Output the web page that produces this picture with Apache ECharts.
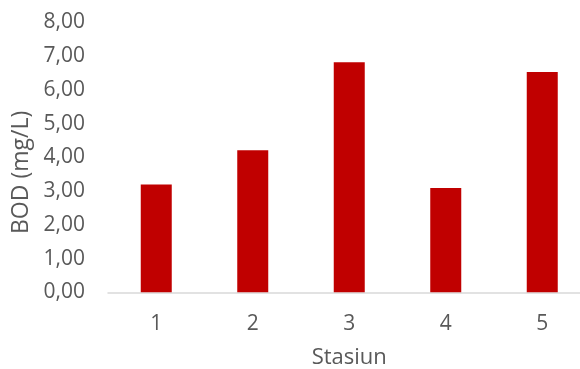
<!DOCTYPE html>
<html>
<head>
<meta charset="utf-8">
<script src="https://cdn.jsdelivr.net/npm/echarts@6/dist/echarts.min.js"></script>
<style>
html,body{margin:0;padding:0;background:#fff;}
#c{width:580px;height:369px;}
</style>
</head>
<body>
<div id="c"></div>
<script>
const categories = ['1', '2', '3', '4', '5'];
const bodValues = [3.20, 4.21, 6.82, 3.09, 6.53];
const yTicks = { min: 0, max: 8, interval: 1 };
const xAxisTitle = 'Stasiun';
const yAxisTitle = 'BOD (mg/L)';

const FONT = '"Open Sans", sans-serif';
const GREY = '#595959';

const chart = echarts.init(document.getElementById('c'), null, { renderer: 'canvas' });
chart.setOption({
  animation: false,
  backgroundColor: '#ffffff',
  grid: {
    left: 108, right: -10.5, top: 22.5, bottom: 76.7,
    containLabel: false, outerBoundsMode: 'none'
  },
  xAxis: {
    type: 'category',
    data: categories,
    name: xAxisTitle,
    nameLocation: 'middle',
    nameGap: 54,
    nameTextStyle: { color: GREY, fontSize: 22, fontFamily: FONT },
    axisLine: { show: true, lineStyle: { color: '#d9d9d9', width: 1.5 } },
    axisTick: { show: false },
    axisLabel: { color: GREY, fontSize: 21, fontFamily: FONT, margin: 21 },
    splitLine: { show: false }
  },
  yAxis: {
    type: 'value',
    min: yTicks.min,
    max: yTicks.max,
    interval: yTicks.interval,
    name: yAxisTitle,
    nameLocation: 'middle',
    nameGap: 71,
    nameTextStyle: { color: GREY, fontSize: 23, fontFamily: FONT, padding: [0, 30, 0, 0] },
    axisLine: { show: false },
    axisTick: { show: false },
    splitLine: { show: false },
    axisLabel: {
      color: GREY, fontSize: 21, fontFamily: FONT, margin: 23,
      formatter: v => v.toFixed(2).replace('.', ',')
    }
  },
  series: [{
    type: 'bar',
    data: bodValues,
    barWidth: 31,
    itemStyle: { color: '#C00000' }
  }]
});
</script>
</body>
</html>
